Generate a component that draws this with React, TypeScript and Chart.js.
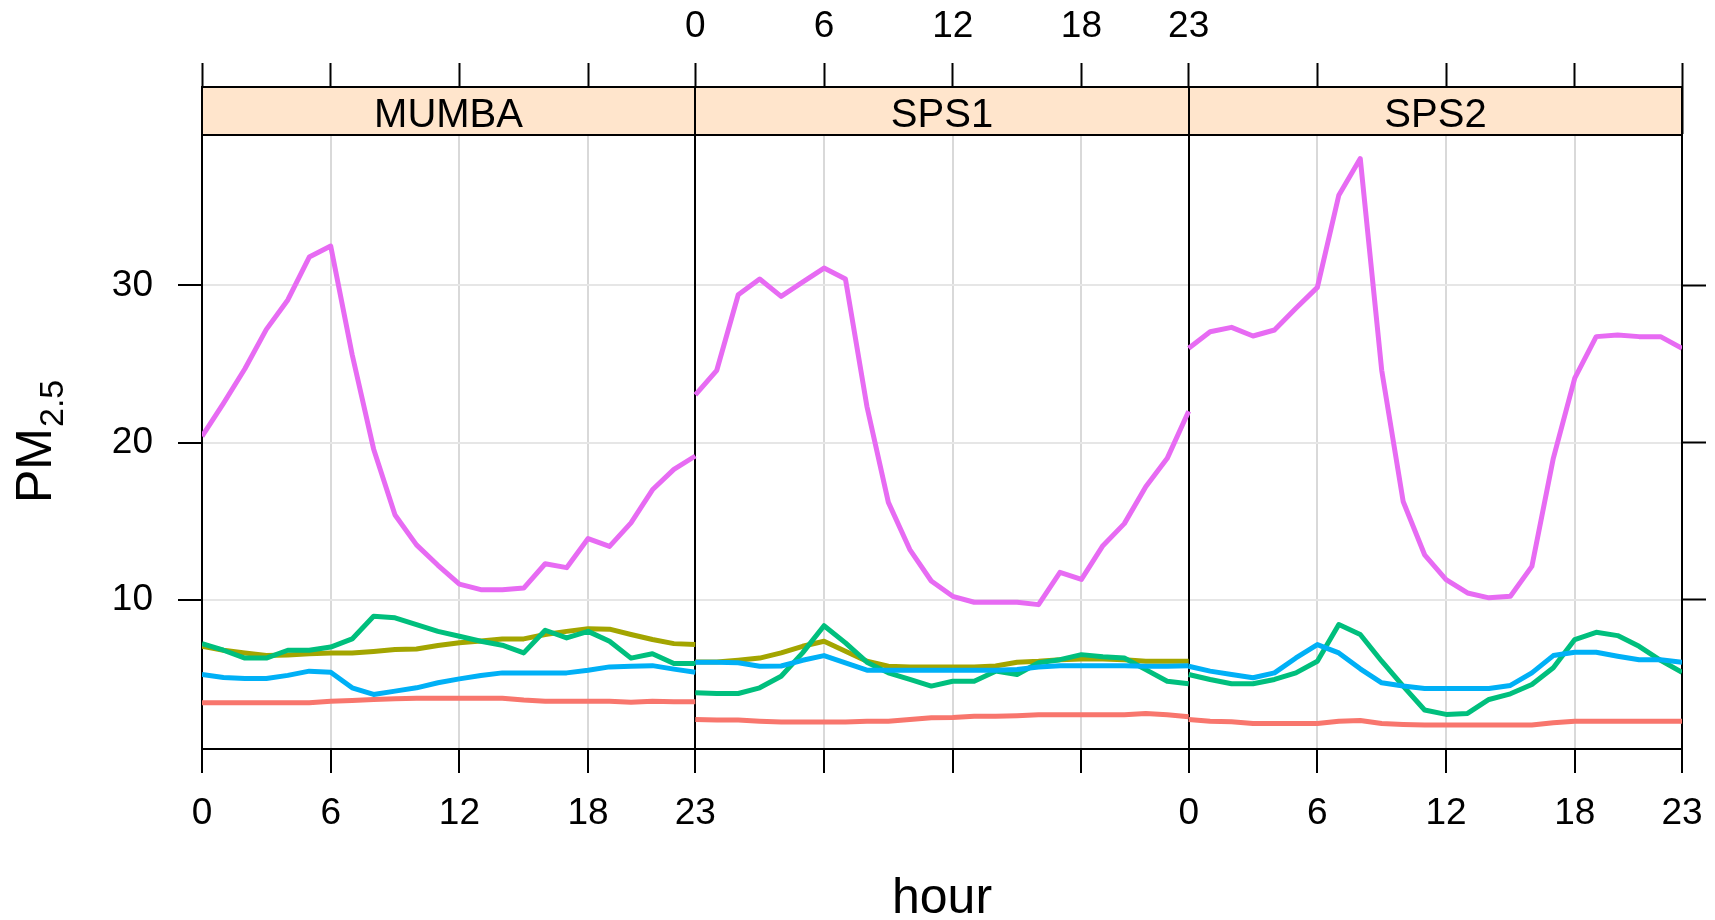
import React, { useEffect, useRef } from "react";
import { Chart, registerables } from "chart.js";

Chart.register(...registerables);

const W = 1715;
const H = 920;
const FONT = "'Liberation Sans', Arial, sans-serif";

const PANELS = ["MUMBA", "SPS1", "SPS2"];
const HOURS = [0, 1, 2, 3, 4, 5, 6, 7, 8, 9, 10, 11, 12, 13, 14, 15, 16, 17, 18, 19, 20, 21, 22, 23];
const HOUR_TICKS = [0, 6, 12, 18, 23];
const Y_TICKS = [10, 20, 30];
const Y_MIN = 0.52;
const Y_MAX = 39.56;
const SERIES_COLORS = ["#F8766D", "#A3A500", "#00BF7D", "#00B0F6", "#E76BF3"];

// MUMBA
const MUMBA_RED = [3.46, 3.46, 3.46, 3.46, 3.46, 3.46, 3.56, 3.6, 3.67, 3.71, 3.75, 3.75, 3.75, 3.75, 3.75, 3.63, 3.56, 3.56, 3.56, 3.56, 3.5, 3.56, 3.52, 3.52];
const MUMBA_OLIVE = [7.05, 6.8, 6.63, 6.46, 6.5, 6.58, 6.63, 6.63, 6.72, 6.84, 6.88, 7.1, 7.27, 7.39, 7.52, 7.52, 7.8, 8.0, 8.16, 8.14, 7.8, 7.48, 7.22, 7.16];
const MUMBA_GREEN = [7.22, 6.8, 6.3, 6.3, 6.8, 6.8, 7.0, 7.52, 8.96, 8.86, 8.43, 8.0, 7.69, 7.37, 7.12, 6.63, 8.07, 7.58, 8.0, 7.37, 6.3, 6.58, 5.95, 5.95];
const MUMBA_BLUE = [5.26, 5.07, 5.0, 5.0, 5.2, 5.47, 5.4, 4.41, 3.99, 4.2, 4.41, 4.73, 4.98, 5.19, 5.36, 5.36, 5.36, 5.36, 5.53, 5.74, 5.78, 5.82, 5.6, 5.4];
const MUMBA_PINK = [20.4, 22.5, 24.7, 27.2, 29.07, 31.8, 32.5, 25.6, 19.6, 15.4, 13.5, 12.2, 11.0, 10.65, 10.65, 10.75, 12.3, 12.05, 13.9, 13.4, 14.9, 17.0, 18.3, 19.15];

// SPS1
const SPS1_RED = [2.4, 2.36, 2.36, 2.29, 2.23, 2.23, 2.23, 2.23, 2.29, 2.29, 2.4, 2.5, 2.52, 2.6, 2.6, 2.64, 2.7, 2.7, 2.7, 2.7, 2.7, 2.78, 2.7, 2.57];
const SPS1_OLIVE = [6.05, 6.05, 6.16, 6.3, 6.63, 7.05, 7.37, 6.74, 6.1, 5.78, 5.74, 5.74, 5.74, 5.74, 5.8, 6.04, 6.1, 6.2, 6.25, 6.25, 6.2, 6.1, 6.1, 6.1];
const SPS1_GREEN = [4.1, 4.05, 4.05, 4.41, 5.15, 6.63, 8.36, 7.27, 6.04, 5.36, 4.94, 4.52, 4.83, 4.83, 5.47, 5.26, 6.0, 6.2, 6.52, 6.38, 6.31, 5.57, 4.83, 4.67];
const SPS1_BLUE = [6.04, 6.04, 6.0, 5.78, 5.8, 6.16, 6.46, 6.0, 5.53, 5.53, 5.53, 5.53, 5.53, 5.53, 5.53, 5.57, 5.74, 5.82, 5.82, 5.82, 5.82, 5.78, 5.78, 5.82];
const SPS1_PINK = [23.03, 24.6, 29.4, 30.4, 29.3, 30.2, 31.1, 30.4, 22.3, 16.2, 13.2, 11.2, 10.23, 9.85, 9.85, 9.85, 9.7, 11.75, 11.3, 13.45, 14.85, 17.2, 19.0, 22.0];

// SPS2 (no olive series at this site)
const SPS2_RED = [2.4, 2.29, 2.25, 2.14, 2.14, 2.14, 2.14, 2.29, 2.33, 2.14, 2.08, 2.04, 2.04, 2.04, 2.04, 2.04, 2.04, 2.19, 2.29, 2.29, 2.29, 2.29, 2.29, 2.29];
const SPS2_OLIVE: number[] = [];
const SPS2_GREEN = [5.26, 4.94, 4.67, 4.67, 4.94, 5.36, 6.1, 8.43, 7.8, 6.1, 4.52, 3.0, 2.72, 2.78, 3.67, 4.03, 4.62, 5.68, 7.48, 7.94, 7.73, 7.05, 6.16, 5.4];
const SPS2_BLUE = [5.78, 5.47, 5.26, 5.05, 5.36, 6.31, 7.16, 6.63, 5.62, 4.73, 4.52, 4.37, 4.37, 4.37, 4.37, 4.56, 5.36, 6.46, 6.67, 6.67, 6.42, 6.2, 6.2, 6.04];
const SPS2_PINK = [26.0, 27.05, 27.33, 26.78, 27.16, 28.54, 29.87, 35.73, 38.06, 24.6, 16.26, 12.87, 11.29, 10.44, 10.13, 10.23, 12.13, 19.0, 24.1, 26.74, 26.84, 26.74, 26.74, 26.0];

const PANEL_SERIES = [
  [MUMBA_RED, MUMBA_OLIVE, MUMBA_GREEN, MUMBA_BLUE, MUMBA_PINK],
  [SPS1_RED, SPS1_OLIVE, SPS1_GREEN, SPS1_BLUE, SPS1_PINK],
  [SPS2_RED, SPS2_OLIVE, SPS2_GREEN, SPS2_BLUE, SPS2_PINK],
];

const SPAN = HOURS[HOURS.length - 1];
const X_MAX = SPAN * PANELS.length;
const X_TICK_VALUES = Array.from(
  new Set(PANELS.flatMap((_, p) => HOUR_TICKS.map((t) => t + p * SPAN)))
);

const STRIP_BG = "#FFE5CC";
const STRIP_TOP = 87;
const TICK_FONT = { family: FONT, size: 37 };

function bottomLabel(v: number): string {
  if (v <= SPAN) return String(v);
  if (v >= (PANELS.length - 1) * SPAN) return String(v - (PANELS.length - 1) * SPAN);
  return "";
}
function topLabel(v: number): string {
  if (v >= SPAN && v <= 2 * SPAN) return String(v - SPAN);
  return "";
}

const panelPlugin = {
  id: "panels",
  beforeDatasetsDraw(chart: any) {
    const { ctx, chartArea, scales } = chart;
    const xs = scales.x;
    ctx.save();
    ctx.strokeStyle = "#000";
    ctx.lineWidth = 2;
    for (let p = 1; p < PANELS.length; p++) {
      const x = Math.round(xs.getPixelForValue(p * SPAN));
      ctx.beginPath();
      ctx.moveTo(x, chartArea.top);
      ctx.lineTo(x, chartArea.bottom);
      ctx.stroke();
    }
    ctx.restore();
  },
  afterDraw(chart: any) {
    const { ctx, chartArea, scales } = chart;
    const xs = scales.x;
    ctx.save();
    // strips
    for (let p = 0; p < PANELS.length; p++) {
      const x0 = Math.round(xs.getPixelForValue(p * SPAN));
      const x1 = Math.round(xs.getPixelForValue((p + 1) * SPAN));
      const top = STRIP_TOP;
      const h = Math.round(chartArea.top) - top;
      ctx.fillStyle = STRIP_BG;
      ctx.fillRect(x0, top, x1 - x0, h);
      ctx.strokeStyle = "#000";
      ctx.lineWidth = 2;
      ctx.strokeRect(x0, top, x1 - x0, h);
      ctx.fillStyle = "#000";
      ctx.font = `40px ${FONT}`;
      ctx.textAlign = "center";
      ctx.textBaseline = "alphabetic";
      ctx.fillText(PANELS[p], (x0 + x1) / 2, chartArea.top - 8);
    }
    // x title
    ctx.fillStyle = "#000";
    ctx.font = `50px ${FONT}`;
    ctx.textAlign = "center";
    ctx.textBaseline = "alphabetic";
    ctx.fillText("hour", (chartArea.left + chartArea.right) / 2, 913);
    // y title PM2.5
    ctx.translate(51, 503);
    ctx.rotate(-Math.PI / 2);
    ctx.textAlign = "left";
    ctx.font = `50px ${FONT}`;
    ctx.fillText("PM", 0, 0);
    const w = ctx.measureText("PM").width;
    ctx.font = `34px ${FONT}`;
    ctx.fillText("2.5", w + 1, 11.5);
    ctx.restore();
  },
};

export default function App() {
  const ref = useRef<HTMLCanvasElement>(null);

  useEffect(() => {
    const canvas = ref.current;
    if (!canvas) return;

    const datasets: any[] = [];
    PANEL_SERIES.forEach((series, p) => {
      series.forEach((vals, s) => {
        if (!vals.length) return;
        datasets.push({
          label: `${PANELS[p]} ${s + 1}`,
          data: vals.map((v, i) => ({ x: HOURS[i] + p * SPAN, y: v })),
          borderColor: SERIES_COLORS[s],
          backgroundColor: SERIES_COLORS[s],
          borderWidth: 5,
          pointRadius: 0,
          tension: 0,
          fill: false,
          borderJoinStyle: "round",
          borderCapStyle: "butt",
          order: 10 - s,
          xAxisID: "x",
          yAxisID: "y",
        });
      });
    });

    const setTicks = (vals: number[]) => (scale: any) => {
      scale.ticks = vals.map((v) => ({ value: v }));
    };
    const isBoundary = (v: number) => v > 0 && v < X_MAX && v % SPAN === 0;

    const chart = new Chart(canvas, {
      type: "line",
      data: { datasets },
      options: {
        animation: false,
        responsive: false,
        devicePixelRatio: 1,
        layout: { padding: 0 },
        plugins: {
          legend: { display: false },
          tooltip: { enabled: false },
          title: { display: false },
        },
        scales: {
          x: {
            type: "linear",
            position: "bottom",
            min: 0,
            max: X_MAX,
            afterBuildTicks: setTicks(X_TICK_VALUES),
            afterFit: (s: any) => {
              s.height = H - 749;
              s.paddingLeft = 0;
              s.paddingRight = 0;
            },
            ticks: {
              autoSkip: false,
              maxRotation: 0,
              minRotation: 0,
              padding: 19,
              color: "#000",
              font: TICK_FONT,
              callback: (v: any) => bottomLabel(Number(v)),
            },
            grid: {
              color: (ctx: any) =>
                ctx.tick && isBoundary(ctx.tick.value) ? "#000" : "#D9D9D9",
              lineWidth: 2,
              tickLength: 24,
              tickColor: "#000",
              tickWidth: 2,
            },
            border: { display: true, color: "#000", width: 2 },
          },
          x2: {
            type: "linear",
            position: "top",
            min: 0,
            max: X_MAX,
            afterBuildTicks: setTicks(X_TICK_VALUES),
            afterFit: (s: any) => {
              s.height = 135;
              s.paddingLeft = 0;
              s.paddingRight = 0;
            },
            ticks: {
              autoSkip: false,
              maxRotation: 0,
              minRotation: 0,
              padding: 14,
              color: "#000",
              font: TICK_FONT,
              callback: (v: any) => topLabel(Number(v)),
            },
            grid: {
              drawOnChartArea: false,
              tickLength: 72,
              tickColor: "#000",
              tickWidth: 2,
            },
            border: { display: true, color: "#000", width: 2 },
          },
          y: {
            type: "linear",
            position: "left",
            min: Y_MIN,
            max: Y_MAX,
            afterBuildTicks: setTicks(Y_TICKS),
            afterFit: (s: any) => {
              s.width = 202;
              s.paddingTop = 0;
              s.paddingBottom = 0;
            },
            ticks: {
              padding: 25,
              color: "#000",
              font: TICK_FONT,
              callback: (v: any) => String(v),
            },
            grid: {
              color: "#E6E6E6",
              lineWidth: 2,
              tickLength: 24,
              tickColor: "#000",
              tickWidth: 2,
            },
            border: { display: true, color: "#000", width: 2 },
          },
          y2: {
            type: "linear",
            position: "right",
            min: Y_MIN,
            max: Y_MAX,
            afterBuildTicks: setTicks(Y_TICKS),
            afterFit: (s: any) => {
              s.width = W - 1682;
              s.paddingTop = 0;
              s.paddingBottom = 0;
            },
            ticks: {
              padding: 0,
              color: "#000",
              font: TICK_FONT,
              callback: () => "",
            },
            grid: {
              drawOnChartArea: false,
              tickLength: 24,
              tickColor: "#000",
              tickWidth: 2,
            },
            border: { display: true, color: "#000", width: 2 },
          },
        },
      },
      plugins: [panelPlugin],
    } as any);

    return () => chart.destroy();
  }, []);

  return (
    <div style={{ position: "fixed", left: 0, top: 0, width: W, height: H, background: "#fff" }}>
      <canvas ref={ref} width={W} height={H} style={{ display: "block", width: W, height: H }} />
    </div>
  );
}
